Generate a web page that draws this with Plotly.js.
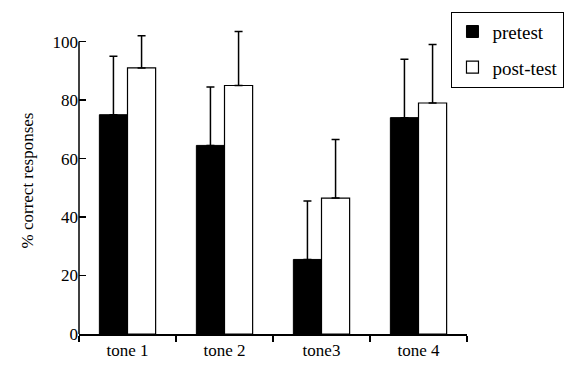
<!DOCTYPE html>
<html>
<head>
<meta charset="utf-8">
<script src="https://cdn.plot.ly/plotly-3.0.1.min.js"></script>
<style>
html,body{margin:0;padding:0;background:#fff;}
#chart{width:576px;height:380px;}
</style>
</head>
<body>
<div id="chart"></div>
<script>
const categories = ["tone 1", "tone 2", "tone3", "tone 4"];
const pretest = [75, 64.5, 25.5, 74];
const pretestErr = [20, 20, 20, 20];
const posttest = [91, 85, 46.5, 79];
const posttestErr = [11, 18.5, 20, 20];
const seriesNames = ["pretest", "post-test"];
const yTicks = [0, 20, 40, 60, 80, 100];

const SERIF = "Times New Roman";

const traces = [
  {
    type: "bar", name: seriesNames[0], x: categories, y: pretest,
    marker: {color: "#000", line: {color: "#000", width: 1}},
    error_y: {type: "data", symmetric: false, array: pretestErr, arrayminus: [0,0,0,0], color: "#000", thickness: 1.5, width: 4},
    legendgroup: "a"
  },
  {
    type: "bar", name: seriesNames[1], x: categories, y: posttest,
    marker: {color: "#fff", line: {color: "#000", width: 1.2}},
    error_y: {type: "data", symmetric: false, array: posttestErr, arrayminus: [0,0,0,0], color: "#000", thickness: 1.5, width: 4},
    legendgroup: "b"
  }
];

const layout = {
  width: 576, height: 380,
  margin: {l: 79, r: 96, t: 27.4, b: 46},
  paper_bgcolor: "#fff", plot_bgcolor: "rgba(0,0,0,0)",
  font: {family: SERIF, size: 17, color: "#000"},
  barmode: "group", bargap: 0.42, bargroupgap: 0,
  showlegend: true,
  legend: {
    x: 0.96, y: 1.05, xanchor: "left", yanchor: "top",
    bordercolor: "#000", borderwidth: 1, bgcolor: "#fff",
    font: {family: SERIF, size: 19, color: "#000"},
    traceorder: "grouped", tracegroupgap: 8
  },
  shapes: [
    {type: "line", xref: "paper", yref: "y", x0: 0, x1: 0, y0: 0, y1: 100, line: {color: "#000", width: 1.5}}
  ],
  xaxis: {
    showline: true, linecolor: "#000", linewidth: 1.5,
    ticks: "outside", tickson: "boundaries", ticklen: 6, tickcolor: "#000", tickwidth: 1.5,
    showgrid: false, zeroline: false,
    tickfont: {family: SERIF, size: 17, color: "#000"}
  },
  yaxis: {
    range: [0, 105], tickvals: yTicks, ticktext: yTicks.map(String),
    showline: false,
    ticks: "inside", ticklen: 7, tickcolor: "#000", tickwidth: 1.5,
    showgrid: false, zeroline: false,
    tickfont: {family: SERIF, size: 17, color: "#000"},
    title: {text: "% correct responses", font: {family: SERIF, size: 17, color: "#000"}, standoff: 14}
  }
};

Plotly.newPlot("chart", traces, layout, {displayModeBar: false, staticPlot: true}).then(gd => {
  gd.querySelectorAll("svg text").forEach(t => {
    t.style.setProperty("font-family", "'Liberation Serif', 'Times New Roman', serif", "important");
    t.setAttribute("font-family", "Liberation Serif");
  });
});
</script>
</body>
</html>
